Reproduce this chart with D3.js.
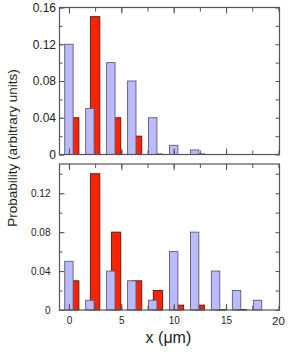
<!DOCTYPE html>
<html>
<head>
<meta charset="utf-8">
<script src="https://cdn.jsdelivr.net/npm/d3@7"></script>
<style>
  body { margin: 0; background: #fff; }
  text { font-family: "Liberation Sans", Arial, sans-serif; fill: #222; }
</style>
</head>
<body>
<div id="chart"></div>
<script>
// bin centres (um)
const bins = [0, 2, 4, 6, 8, 10, 12, 14, 16, 18];
// top panel
const topBlue = [0.12, 0.05, 0.10, 0.08, 0.04, 0.01, 0.005, 0, 0, 0];
const topRed = [0.04, 0.15, 0.04, 0.02, 0.0005, 0, 0.0005, 0, 0, 0];
// bottom panel
const botBlue = [0.05, 0.01, 0.04, 0.03, 0.01, 0.06, 0.08, 0.04, 0.02, 0.01];
const botRed = [0.03, 0.14, 0.08, 0.03, 0.02, 0.005, 0.005, 0.0005, 0.0005, 0];
// tick labels
const xTicks = [0, 5, 10, 15, 20];
const topYTicks = [0, 0.04, 0.08, 0.12, 0.16];
const botYTicks = [0, 0.04, 0.08, 0.12];

const width = 291, height = 352;
const blueFill = "#bbbbfb", blueStroke = "#5a5a78";
const redFill = "#ff2200", redStroke = "#4a1a10";
const frameColor = "#555";

const svg = d3.select("#chart").append("svg")
  .attr("width", width)
  .attr("height", height);

// shared x scale
const x = d3.scaleLinear().domain([-0.9, 20.1]).range([59.5, 279.5]);

const fmt = d => d === 0 ? "0" : d3.format(".2f")(d);

// one panel
const panel = (blue, red, yMax, yTop, yBottom, yTicks, fontSize, pad, showX) => {
  const y = d3.scaleLinear().domain([0, yMax]).range([yBottom, yTop]);
  const g = svg.append("g");

  // red bars first, blue drawn over them
  const redData = bins.map((c, i) => ({ c, v: red[i] })).filter(d => d.v > 0);
  const blueData = bins.map((c, i) => ({ c, v: blue[i] })).filter(d => d.v > 0);

  g.selectAll("rect.red")
    .data(redData)
    .enter()
    .append("rect")
    .attr("class", "red")
    .attr("x", d => x(d.c + 0.05))
    .attr("width", d => x(d.c + 0.95) - x(d.c + 0.05))
    .attr("y", d => y(d.v))
    .attr("height", d => y(0) - y(d.v))
    .attr("fill", redFill)
    .attr("stroke", redStroke)
    .attr("stroke-width", 0.9);

  g.selectAll("rect.blue")
    .data(blueData)
    .enter()
    .append("rect")
    .attr("class", "blue")
    .attr("x", d => x(d.c - 0.4))
    .attr("width", d => x(d.c + 0.4) - x(d.c - 0.4))
    .attr("y", d => y(d.v))
    .attr("height", d => y(0) - y(d.v))
    .attr("fill", blueFill)
    .attr("stroke", blueStroke)
    .attr("stroke-width", 0.9);

  // frame
  g.append("rect")
    .attr("x", x.range()[0])
    .attr("y", yTop)
    .attr("width", x.range()[1] - x.range()[0])
    .attr("height", yBottom - yTop)
    .attr("fill", "none")
    .attr("stroke", frameColor)
    .attr("stroke-width", 1.2);

  // inward ticks, major + minor, on all sides
  const minorY = d3.range(0, yMax + 1e-9, 0.02);
  const minorX = d3.range(0, 20.01, 2.5);
  const axes = [
    [d3.axisLeft(y).tickValues(yTicks).tickFormat(fmt).tickSizeInner(-5).tickPadding(pad), `translate(${x.range()[0]},0)`, true],
    [d3.axisLeft(y).tickValues(minorY).tickFormat("").tickSizeInner(-3), `translate(${x.range()[0]},0)`, false],
    [d3.axisRight(y).tickValues(minorY).tickFormat("").tickSizeInner(-4), `translate(${x.range()[1]},0)`, false],
    [d3.axisTop(x).tickValues(xTicks.slice(0, 4)).tickFormat("").tickSizeInner(-6), `translate(0,${yTop})`, false],
    [d3.axisTop(x).tickValues(minorX).tickFormat("").tickSizeInner(-4), `translate(0,${yTop})`, false],
    [d3.axisBottom(x).tickValues(xTicks.slice(0, 4)).tickFormat(showX ? null : "").tickSizeInner(-6).tickPadding(6.8), `translate(0,${yBottom})`, showX],
    [d3.axisBottom(x).tickValues(minorX).tickFormat("").tickSizeInner(-4), `translate(0,${yBottom})`, false]
  ];
  axes.forEach(([ax, tr, labels]) => {
    const a = g.append("g").attr("transform", tr).call(ax.tickSizeOuter(0));
    a.select(".domain").remove();
    a.selectAll("line").attr("stroke", frameColor).attr("stroke-width", 1);
    a.selectAll("text").attr("font-size", labels ? fontSize : 0).attr("fill", "#222")
      .style("font-family", '"Liberation Sans", Arial, sans-serif');
  });
  return g;
};

panel(topBlue, topRed, 0.16, 7.5, 154.5, topYTicks, 12, 3.5, false);
const bottom = panel(botBlue, botRed, 0.15, 164, 310, botYTicks, 10, 9, true);

// the "20" label sits on the right frame edge
bottom.append("text")
  .attr("x", x(20))
  .attr("y", 325)
  .attr("text-anchor", "middle")
  .attr("font-size", 11.5)
  .text("20");
bottom.selectAll("g text").attr("font-size", function () {
  return d3.select(this).attr("font-size");
});

// axis titles
svg.append("text")
  .attr("x", x(9.5))
  .attr("y", 343)
  .attr("text-anchor", "middle")
  .attr("font-size", 16)
  .text("x (\u03bcm)");

svg.append("text")
  .attr("transform", "translate(17,148) rotate(-90)")
  .attr("text-anchor", "middle")
  .attr("font-size", 13.5)
  .text("Probability (arbitrary units)");
</script>
</body>
</html>
